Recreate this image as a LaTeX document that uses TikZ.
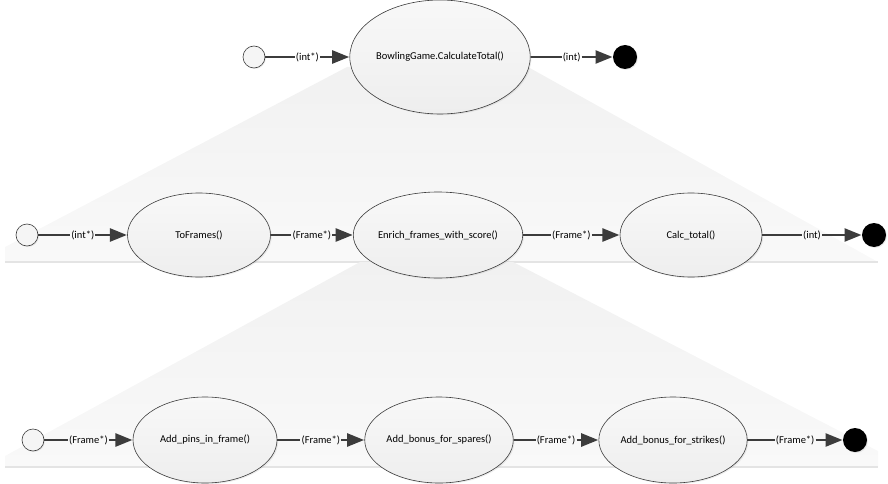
\documentclass[tikz,border=0pt]{standalone}
\usepackage{fontspec}
\setmainfont{Carlito}
\usetikzlibrary{shapes.geometric,arrows.meta,shadows,calc}
\definecolor{linec}{HTML}{3C3C3C}
\definecolor{conetop}{HTML}{F1F1F1}
\definecolor{conebot}{HTML}{F9F9F9}
\definecolor{baseln}{HTML}{E4E4E4}
\definecolor{elltop}{HTML}{F8F8F8}
\definecolor{ellbot}{HTML}{EEEEEE}
\tikzset{
  func/.style={ellipse, draw=linec, line width=0.6pt, top color=elltop, bottom color=ellbot,
    inner sep=0pt, font=\fontsize{10.5}{12}\selectfont,
    drop shadow={shadow xshift=1.2pt, shadow yshift=-1.2pt, opacity=0.15}},
  startst/.style={circle, draw=linec, line width=0.6pt, fill=white!96!black, minimum size=22pt, inner sep=0pt,
    drop shadow={shadow xshift=1pt, shadow yshift=-1pt, opacity=0.15}},
  endst/.style={circle, fill=black, minimum size=24pt, inner sep=0pt,
    drop shadow={shadow xshift=1pt, shadow yshift=-1pt, opacity=0.15}},
  lbl/.style={inner sep=1pt, font=\fontsize{10.5}{12}\selectfont},
  seg/.style={draw=linec, line width=2.5pt},
  conn/.style={draw=linec, line width=2.5pt, -{Triangle[length=17pt,width=13pt]}, shorten >=0.3pt},
  cone/.style={top color=conetop, bottom color=conebot, draw=none},
  baseline/.style={draw=baseln, line width=1.6pt}
}
\begin{document}
\begin{tikzpicture}[x=1pt,y=-1pt]
\useasboundingbox (0,0) rectangle (888,484);
% zoom cones
\shade[cone] (347,67) -- (528,67) -- (878,262) -- (5,262) -- (5,247) -- cycle;
\draw[baseline] (5,262) -- (878,262);
\shade[cone] (360,262) -- (513,262) -- (878,451) -- (878,467) -- (5,467) -- (5,456) -- cycle;
\draw[baseline] (5,467) -- (878,467);
% top row
\node[startst] (s0) at (254,57) {};
\node[func, minimum width=170pt, minimum height=114pt] (e0) at (440,57) {BowlingGame.CalculateTotal()};
\node[endst] (f0) at (625,57) {};
% middle row
\node[startst] (s1) at (27,235) {};
\node[func, minimum width=143pt, minimum height=84pt] (m1) at (199,235) {ToFrames()};
\node[func, minimum width=160pt, minimum height=86pt] (m2) at (438,235) {Enrich\_frames\_with\_score()};
\node[func, minimum width=142pt, minimum height=84pt] (m3) at (691,235) {Calc\_total()};
\node[endst] (f1) at (874,235) {};
% bottom row
\node[startst] (s2) at (33,440) {};
\node[func, minimum width=144pt, minimum height=86pt] (b1) at (205,440) {Add\_pins\_in\_frame()};
\node[func, minimum width=142pt, minimum height=86pt] (b2) at (439,440) {Add\_bonus\_for\_spares()};
\node[func, minimum width=144pt, minimum height=86pt] (b3) at (673,440) {Add\_bonus\_for\_strikes()};
\node[endst] (f2) at (855,440) {};
% connectors
\foreach \a/\b/\t/\n in {s0/e0/(int*)/la, e0/f0/(int)/lb,
  s1/m1/(int*)/lc, m1/m2/(Frame*)/ld, m2/m3/(Frame*)/le, m3/f1/(int)/lf,
  s2/b1/(Frame*)/lg, b1/b2/(Frame*)/lh, b2/b3/(Frame*)/li, b3/f2/(Frame*)/lj}{
  \node[lbl] (\n) at ($(\a.east)!0.5!(\b.west)$) {\t};
  \draw[seg] (\a.east) -- (\n.west);
  \draw[conn] (\n.east) -- (\b.west);
}
\end{tikzpicture}
\end{document}
